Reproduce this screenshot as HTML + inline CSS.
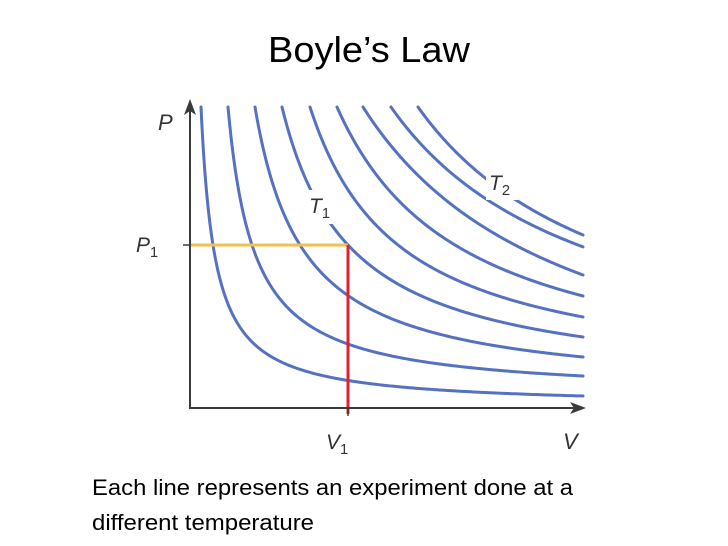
<!DOCTYPE html>
<html><head><meta charset="utf-8"><style>
html,body{margin:0;padding:0;background:#fff;}
svg{display:block;}
</style></head><body>
<svg width="728" height="546" viewBox="0 0 728 546" xmlns="http://www.w3.org/2000/svg">
<text x="369" y="62" text-anchor="middle" font-family="Liberation Sans, sans-serif" font-size="36" fill="#000" textLength="202" lengthAdjust="spacingAndGlyphs">Boyle’s Law</text>
<g id="chart"></g>
<text x="92" y="495" font-family="Liberation Sans, sans-serif" font-size="22" fill="#000" textLength="481" lengthAdjust="spacingAndGlyphs">Each line represents an experiment done at a</text>
<text x="92" y="530" font-family="Liberation Sans, sans-serif" font-size="22" fill="#000" textLength="222" lengthAdjust="spacingAndGlyphs">different temperature</text>
</svg>
<script>
// Data (chart units: V 0..400, P 0..310)
const curveNames = ["c1","c2","c3","T1","c5","c6","c7","c8","T2"];
const topV = [11, 38, 65, 92, 120, 147, 173, 201, 228];    // V where P = 301
const crossV = [23, 62, 110, 158, 208, 265, 325, 388, 418]; // V where P = 163
const endP = [12, 32, 51, 71, 91, 112, 133, 153, 173];     // P at V = 393
const markV = [158];
const markP = [163];
const vLabels = ["V1"];
const pLabels = ["P1"];

const X0 = 190, Y0 = 408;
const xs = v => X0 + v;
const ys = p => Y0 - p;
const PTOP = 301, PCROSS = 163, VEND = 393;

const NS = "http://www.w3.org/2000/svg";
const g = document.getElementById("chart");
function mk(tag, attrs){ const e=document.createElementNS(NS,tag); for(const k in attrs) e.setAttribute(k,attrs[k]); g.appendChild(e); return e; }

function fit(v1,p1,v2,p2,v3,p3){
  function res(a){
    const k=(p1-p2)/(1/(v1-a)-1/(v2-a)); const b=p1-k/(v1-a);
    return {k,b,r:b+k/(v3-a)-p3};
  }
  let lo=-3000, hi=Math.min(v1,v2,v3)-0.01;
  let rl=res(lo).r, rh=res(hi).r;
  if (rl*rh>0){ const a=0; const o=res(a); return {a,k:o.k,b:o.b}; }
  for(let i=0;i<80;i++){ const m=(lo+hi)/2; const rm=res(m).r; if(rm*rl>0){lo=m;rl=rm;}else{hi=m;} }
  const a=(lo+hi)/2; const o=res(a); return {a,k:o.k,b:o.b};
}

// curves
for(let i=0;i<topV.length;i++){
  const f=fit(topV[i],PTOP,crossV[i],PCROSS,VEND,endP[i]);
  let d="";
  const v0=topV[i];
  for(let s=0;s<=200;s++){
    const v=v0+(VEND-v0)*Math.pow(s/200,1.6);
    const p=f.b+f.k/(v-f.a);
    d+=(s?"L":"M")+xs(v).toFixed(2)+","+ys(p).toFixed(2);
  }
  const path=mk("path",{d:d,fill:"none",stroke:"#5572c0","stroke-width":"3","stroke-linecap":"round"});
  
  
}

// label masks + labels
const m1=mk("rect",{x:306,y:190,width:30,height:34,fill:"#fff"});


const m2=mk("rect",{x:486,y:168,width:32,height:32,fill:"#fff"});



// guide lines
const yl=mk("line",{x1:X0,y1:ys(markP[0]),x2:xs(markV[0]),y2:ys(markP[0]),stroke:"#f5c04a","stroke-width":"3"});


const rl=mk("line",{x1:xs(markV[0]),y1:ys(markP[0]),x2:xs(markV[0]),y2:Y0+6,stroke:"#e5202e","stroke-width":"3"});



// axes
const ax=mk("path",{d:`M${X0},104 L${X0},${Y0} L578,${Y0}`,fill:"none",stroke:"#3a3a3a","stroke-width":"2"});


const ay=mk("path",{d:`M${X0},99 L${X0-6},115 L${X0},111 L${X0+6},115 Z`,fill:"#3a3a3a"});


const axr=mk("path",{d:`M586,${Y0} L570,${Y0-6} L574,${Y0} L570,${Y0+6} Z`,fill:"#3a3a3a"});


const tp=mk("line",{x1:X0-7,y1:ys(markP[0]),x2:X0,y2:ys(markP[0]),stroke:"#3a3a3a","stroke-width":"1.5"});


const tv=mk("line",{x1:xs(markV[0]),y1:Y0,x2:xs(markV[0]),y2:Y0+8,stroke:"#3a3a3a","stroke-width":"1.5"});



function label(x,y,main,sub,size,name){
  const t=mk("text",{x:x,y:y,"font-family":"Liberation Sans, sans-serif","font-size":size,fill:"#333"});
  
  
  const a=document.createElementNS(NS,"tspan"); a.setAttribute("font-style","italic"); a.textContent=main; t.appendChild(a);
  if(sub){ const b=document.createElementNS(NS,"tspan"); b.setAttribute("font-size",size*0.7); b.setAttribute("dy","5"); b.textContent=sub; t.appendChild(b); }
}
label(158,130,"P","",22,"y-axis-title");
label(136,252,pLabels[0].charAt(0),pLabels[0].slice(1),21,"p1-label");
label(326,449,vLabels[0].charAt(0),vLabels[0].slice(1),21,"v1-label");
label(563,449,"V","",22,"x-axis-title");
label(309,213,"T","1",21,"t1-label");
label(489,190,"T","2",21,"t2-label");
</script>
</body></html>
